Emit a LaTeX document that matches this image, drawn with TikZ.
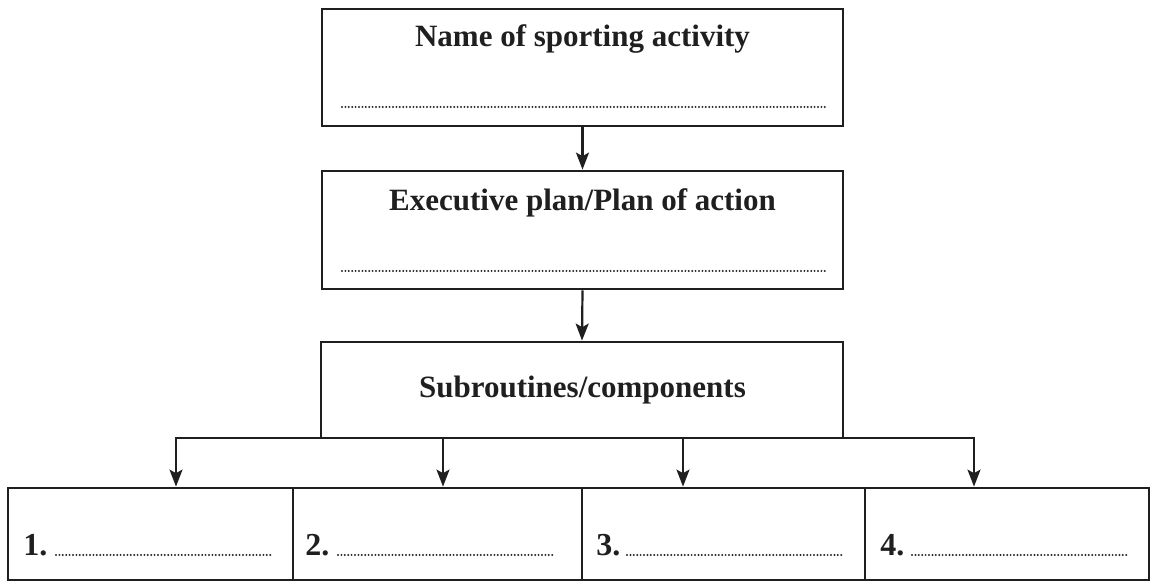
\documentclass[tikz,border=0pt]{standalone}
\usepackage{fontspec}
\setmainfont{Liberation Serif}
\usetikzlibrary{arrows.meta}
\begin{document}
\begin{tikzpicture}[x=0.5pt,y=-0.5pt,
  box/.style={draw=black!88, line width=1.4pt, rectangle, inner sep=0pt},
  arr/.style={draw=black!88, line width=1.1pt, -{Stealth[length=8.5pt,width=6.5pt,inset=1.8pt]}},
  ttl/.style={font=\fontsize{15.5}{18}\selectfont\bfseries, anchor=base, inner sep=0pt, text=black!88},
  num/.style={font=\fontsize{16}{18}\selectfont\bfseries, anchor=base west, inner sep=0pt, text=black!88},
  dotrule/.style={line width=1.1pt, line cap=round, dash pattern=on 0pt off 1.7pt, draw=black!85}]
\useasboundingbox (0,0) rectangle (1152,581);
% main boxes
\node[box, minimum width=260.5pt, minimum height=58.5pt] (b1) at (582.5,67.5) {};
\node[box, minimum width=260.5pt, minimum height=59pt] (b2) at (582.5,230) {};
\node[box, minimum width=261pt, minimum height=48pt] (b3) at (582,390) {};
% titles
\node[ttl] (t1) at (582.5,47) {Name of sporting activity};
\node[ttl] (t2) at (582.5,211) {Executive plan/Plan of action};
\node[ttl] (t3) at (582.5,398) {Subroutines/components};
% dotted answer lines
\draw[dotrule] (342,107) -- (825,107);
\draw[dotrule] (342,271) -- (825,271);
% bottom row
\node[box, minimum width=142.5pt, minimum height=46pt] (c1) at (150.5,534) {};
\node[box, minimum width=144.5pt, minimum height=46pt] (c2) at (437.5,534) {};
\node[box, minimum width=141.5pt, minimum height=46pt] (c3) at (723.5,534) {};
\node[box, minimum width=142pt, minimum height=46pt] (c4) at (1007,534) {};
\node[num] (n1) at (23,556) {1.};
\node[num] (n2) at (305,556) {2.};
\node[num] (n3) at (596,556) {3.};
\node[num] (n4) at (880,556) {4.};
\draw[dotrule] (56,555) -- (272,555);
\draw[dotrule] (338,555) -- (554,555);
\draw[dotrule] (627,555) -- (842,555);
\draw[dotrule] (912,555) -- (1128,555);
% connectors
\draw[arr] (b1.south) -- (b2.north);
\draw[arr] (b2.south) -- (b3.north);
\coordinate (k1) at (176,438);
\coordinate (k2) at (443,438);
\coordinate (k3) at (683,438);
\coordinate (k4) at (974,438);
\draw[draw=black!88, line width=1.4pt, line cap=rect] (k1) -- (k4);
\draw[arr] (k1) -- (k1 |- c1.north);
\draw[arr] (k2) -- (k2 |- c2.north);
\draw[arr] (k3) -- (k3 |- c3.north);
\draw[arr] (k4) -- (k4 |- c4.north);
\end{tikzpicture}
\end{document}
